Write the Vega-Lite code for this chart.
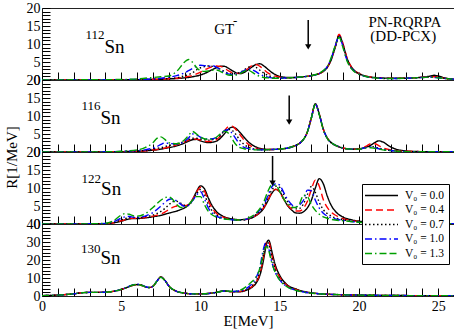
{
"$schema": "https://vega.github.io/schema/vega-lite/v6.json",
"padding": {"left": 3, "top": 0, "right": 1, "bottom": 1},
"spacing": 0,
"bounds": "flush",
"config": {
 "view": {"stroke": "#222", "strokeWidth": 1},
 "axis": {"labelFont": "Liberation Serif", "labelFontSize": 14, "labelColor": "black", "tickColor": "black", "tickWidth": 1, "tickSize": -8, "domain": false, "grid": false, "labelOverlap": false, "labelFlush": false, "labelBound": false, "titleFont": "Liberation Serif", "titleFontWeight": "normal", "titleFontSize": 15, "titleColor": "black", "labelPadding": 10},
 "legend": {"orient": "none", "legendX": 320, "legendY": 176, "padding": 5, "strokeColor": "black", "fillColor": "white", "labelFont": "Liberation Serif", "labelFontSize": 11.5, "labelColor": "black", "symbolStrokeWidth": 1.5, "rowPadding": 2.5}
},
"datasets": {
 "curves": [
  {"p":1,"E":0,"a":0,"b":0,"c":0,"d":0,"e":0},
  {"p":1,"E":2,"a":0,"b":0,"c":0,"d":0,"e":0.05},
  {"p":1,"E":4,"a":0.05,"b":0.05,"c":0.05,"d":0.05,"e":0.1},
  {"p":1,"E":5,"a":0.1,"b":0.1,"c":0.1,"d":0.1,"e":0.15},
  {"p":1,"E":6,"a":0.1,"b":0.1,"c":0.1,"d":0.15,"e":0.3},
  {"p":1,"E":7,"a":0.15,"b":0.2,"c":0.25,"d":0.3,"e":0.7},
  {"p":1,"E":7.5,"a":0.2,"b":0.25,"c":0.3,"d":0.5,"e":0.9},
  {"p":1,"E":8,"a":0.3,"b":0.35,"c":0.4,"d":0.8,"e":1.1},
  {"p":1,"E":8.5,"a":0.4,"b":0.5,"c":0.6,"d":1.2,"e":2.4},
  {"p":1,"E":9,"a":0.6,"b":0.8,"c":1.2,"d":2.0,"e":5.0},
  {"p":1,"E":9.25,"a":0.7,"b":1.0,"c":1.5,"d":2.6,"e":5.7},
  {"p":1,"E":9.5,"a":0.9,"b":1.3,"c":2.0,"d":3.2,"e":4.9},
  {"p":1,"E":9.75,"a":1.1,"b":1.7,"c":2.8,"d":3.8,"e":3.5},
  {"p":1,"E":10,"a":1.4,"b":2.2,"c":3.4,"d":4.1,"e":2.6},
  {"p":1,"E":10.25,"a":1.8,"b":2.8,"c":3.7,"d":4.0,"e":2.4},
  {"p":1,"E":10.5,"a":2.3,"b":3.3,"c":3.9,"d":3.8,"e":2.5},
  {"p":1,"E":10.75,"a":2.9,"b":3.7,"c":3.8,"d":4.0,"e":2.7},
  {"p":1,"E":11,"a":3.4,"b":3.9,"c":3.5,"d":3.6,"e":2.8},
  {"p":1,"E":11.25,"a":3.8,"b":3.8,"c":3.0,"d":2.8,"e":2.4},
  {"p":1,"E":11.5,"a":3.8,"b":3.3,"c":2.4,"d":2.1,"e":1.8},
  {"p":1,"E":11.75,"a":3.3,"b":2.6,"c":1.9,"d":1.7,"e":1.4},
  {"p":1,"E":12,"a":2.6,"b":2.0,"c":1.7,"d":1.5,"e":1.3},
  {"p":1,"E":12.25,"a":2.0,"b":1.8,"c":1.8,"d":1.6,"e":1.4},
  {"p":1,"E":12.5,"a":1.8,"b":1.9,"c":2.1,"d":2.0,"e":1.8},
  {"p":1,"E":12.75,"a":2.1,"b":2.4,"c":2.8,"d":2.6,"e":2.4},
  {"p":1,"E":13,"a":2.8,"b":3.2,"c":3.5,"d":3.1,"e":2.7},
  {"p":1,"E":13.25,"a":3.6,"b":4.0,"c":3.8,"d":2.9,"e":2.2},
  {"p":1,"E":13.5,"a":4.3,"b":4.3,"c":3.5,"d":2.3,"e":1.5},
  {"p":1,"E":13.75,"a":4.5,"b":3.8,"c":2.7,"d":1.6,"e":1.0},
  {"p":1,"E":14,"a":3.9,"b":2.9,"c":1.9,"d":1.1,"e":0.7},
  {"p":1,"E":14.25,"a":3.0,"b":2.0,"c":1.3,"d":0.8,"e":0.6},
  {"p":1,"E":14.5,"a":2.1,"b":1.4,"c":0.9,"d":0.6,"e":0.5},
  {"p":1,"E":15,"a":1.0,"b":0.8,"c":0.6,"d":0.5,"e":0.5},
  {"p":1,"E":15.5,"a":0.7,"b":0.6,"c":0.6,"d":0.6,"e":0.6},
  {"p":1,"E":16,"a":0.7,"b":0.7,"c":0.7,"d":0.7,"e":0.7},
  {"p":1,"E":16.5,"a":0.9,"b":0.9,"c":0.9,"d":0.9,"e":0.9},
  {"p":1,"E":17,"a":1.2,"b":1.2,"c":1.2,"d":1.2,"e":1.2},
  {"p":1,"E":17.5,"a":1.8,"b":1.8,"c":1.8,"d":1.8,"e":1.9},
  {"p":1,"E":17.75,"a":2.4,"b":2.4,"c":2.4,"d":2.5,"e":2.6},
  {"p":1,"E":18,"a":3.5,"b":3.5,"c":3.5,"d":3.7,"e":3.8},
  {"p":1,"E":18.25,"a":5.6,"b":5.7,"c":5.8,"d":6.0,"e":6.2},
  {"p":1,"E":18.5,"a":9.0,"b":9.2,"c":9.2,"d":9.4,"e":9.5},
  {"p":1,"E":18.75,"a":12.4,"b":12.7,"c":12.3,"d":12.1,"e":11.8},
  {"p":1,"E":19,"a":9.8,"b":10.0,"c":9.6,"d":9.2,"e":8.9},
  {"p":1,"E":19.25,"a":6.0,"b":6.1,"c":5.8,"d":5.5,"e":5.3},
  {"p":1,"E":19.5,"a":3.8,"b":3.8,"c":3.6,"d":3.4,"e":3.3},
  {"p":1,"E":19.75,"a":2.5,"b":2.5,"c":2.4,"d":2.3,"e":2.2},
  {"p":1,"E":20,"a":1.8,"b":1.8,"c":1.7,"d":1.6,"e":1.6},
  {"p":1,"E":20.5,"a":1.0,"b":1.0,"c":0.9,"d":0.9,"e":0.9},
  {"p":1,"E":21,"a":0.7,"b":0.7,"c":0.6,"d":0.6,"e":0.6},
  {"p":1,"E":22,"a":0.5,"b":0.5,"c":0.4,"d":0.4,"e":0.4},
  {"p":1,"E":23,"a":0.5,"b":0.5,"c":0.5,"d":0.5,"e":0.5},
  {"p":1,"E":23.5,"a":0.6,"b":0.6,"c":0.6,"d":0.6,"e":0.6},
  {"p":1,"E":24,"a":0.8,"b":0.8,"c":0.7,"d":0.7,"e":0.7},
  {"p":1,"E":24.5,"a":1.1,"b":0.9,"c":0.8,"d":0.8,"e":0.8},
  {"p":1,"E":24.75,"a":1.3,"b":0.9,"c":0.8,"d":0.7,"e":0.7},
  {"p":1,"E":25,"a":1.1,"b":0.8,"c":0.7,"d":0.6,"e":0.6},
  {"p":1,"E":25.5,"a":0.5,"b":0.4,"c":0.4,"d":0.4,"e":0.4},
  {"p":1,"E":26,"a":0.2,"b":0.2,"c":0.2,"d":0.2,"e":0.2},

  {"p":2,"E":0,"a":0,"b":0,"c":0,"d":0,"e":0},
  {"p":2,"E":4,"a":0.05,"b":0.05,"c":0.05,"d":0.05,"e":0.05},
  {"p":2,"E":5,"a":0.1,"b":0.1,"c":0.1,"d":0.15,"e":0.2},
  {"p":2,"E":6,"a":0.2,"b":0.2,"c":0.3,"d":0.4,"e":0.6},
  {"p":2,"E":6.5,"a":0.3,"b":0.3,"c":0.4,"d":0.6,"e":1.2},
  {"p":2,"E":7,"a":0.5,"b":0.6,"c":0.8,"d":1.1,"e":2.6},
  {"p":2,"E":7.25,"a":0.6,"b":0.7,"c":1.0,"d":1.5,"e":3.8},
  {"p":2,"E":7.5,"a":0.8,"b":0.9,"c":1.2,"d":2.1,"e":4.2},
  {"p":2,"E":7.75,"a":1.0,"b":1.1,"c":1.5,"d":2.5,"e":3.5},
  {"p":2,"E":8,"a":1.2,"b":1.4,"c":1.8,"d":2.4,"e":2.6},
  {"p":2,"E":8.5,"a":1.7,"b":2.0,"c":2.3,"d":2.2,"e":2.3},
  {"p":2,"E":9,"a":2.5,"b":2.8,"c":2.9,"d":3.0,"e":3.4},
  {"p":2,"E":9.25,"a":3.0,"b":3.3,"c":3.4,"d":3.9,"e":4.6},
  {"p":2,"E":9.5,"a":3.4,"b":3.6,"c":3.8,"d":5.0,"e":5.7},
  {"p":2,"E":9.75,"a":3.5,"b":3.6,"c":3.8,"d":4.8,"e":5.0},
  {"p":2,"E":10,"a":3.1,"b":3.3,"c":3.6,"d":4.1,"e":4.1},
  {"p":2,"E":10.5,"a":2.6,"b":2.9,"c":3.3,"d":3.6,"e":3.5},
  {"p":2,"E":11,"a":3.0,"b":3.4,"c":3.8,"d":4.0,"e":4.1},
  {"p":2,"E":11.25,"a":3.8,"b":4.4,"c":4.6,"d":4.9,"e":5.0},
  {"p":2,"E":11.5,"a":5.0,"b":5.8,"c":5.8,"d":5.9,"e":5.8},
  {"p":2,"E":11.75,"a":6.3,"b":7.0,"c":6.3,"d":6.2,"e":5.3},
  {"p":2,"E":12,"a":6.9,"b":7.2,"c":6.0,"d":5.2,"e":3.6},
  {"p":2,"E":12.25,"a":6.5,"b":6.2,"c":4.8,"d":3.6,"e":2.0},
  {"p":2,"E":12.5,"a":5.4,"b":4.8,"c":3.2,"d":2.0,"e":1.2},
  {"p":2,"E":12.75,"a":4.1,"b":3.3,"c":2.1,"d":1.3,"e":0.9},
  {"p":2,"E":13,"a":2.9,"b":2.2,"c":1.4,"d":1.0,"e":0.8},
  {"p":2,"E":13.5,"a":1.4,"b":1.1,"c":0.8,"d":0.7,"e":0.6},
  {"p":2,"E":14,"a":0.8,"b":0.7,"c":0.6,"d":0.6,"e":0.6},
  {"p":2,"E":14.5,"a":0.7,"b":0.7,"c":0.7,"d":0.7,"e":0.7},
  {"p":2,"E":15,"a":0.8,"b":0.8,"c":0.8,"d":0.8,"e":0.8},
  {"p":2,"E":15.5,"a":1.1,"b":1.1,"c":1.1,"d":1.1,"e":1.1},
  {"p":2,"E":16,"a":1.8,"b":1.8,"c":1.8,"d":1.8,"e":1.8},
  {"p":2,"E":16.25,"a":2.4,"b":2.4,"c":2.4,"d":2.4,"e":2.4},
  {"p":2,"E":16.5,"a":3.5,"b":3.5,"c":3.5,"d":3.5,"e":3.5},
  {"p":2,"E":16.75,"a":5.6,"b":5.6,"c":5.6,"d":5.6,"e":5.6},
  {"p":2,"E":17,"a":9.5,"b":9.5,"c":9.5,"d":9.5,"e":9.5},
  {"p":2,"E":17.25,"a":13.4,"b":13.3,"c":13.3,"d":13.3,"e":13.2},
  {"p":2,"E":17.5,"a":10.5,"b":10.5,"c":10.4,"d":10.4,"e":10.3},
  {"p":2,"E":17.75,"a":6.4,"b":6.4,"c":6.3,"d":6.3,"e":6.2},
  {"p":2,"E":18,"a":3.9,"b":3.9,"c":3.8,"d":3.8,"e":3.8},
  {"p":2,"E":18.25,"a":2.6,"b":2.6,"c":2.6,"d":2.6,"e":2.6},
  {"p":2,"E":18.5,"a":1.9,"b":1.9,"c":1.9,"d":1.9,"e":1.9},
  {"p":2,"E":19,"a":1.1,"b":1.1,"c":1.1,"d":1.1,"e":1.1},
  {"p":2,"E":19.5,"a":0.8,"b":0.8,"c":0.8,"d":0.8,"e":0.8},
  {"p":2,"E":20,"a":0.9,"b":0.9,"c":0.8,"d":0.8,"e":0.8},
  {"p":2,"E":20.5,"a":1.4,"b":1.7,"c":1.3,"d":1.3,"e":1.2},
  {"p":2,"E":20.75,"a":1.9,"b":2.3,"c":1.5,"d":1.4,"e":1.2},
  {"p":2,"E":21,"a":2.6,"b":2.3,"c":1.4,"d":1.2,"e":1.0},
  {"p":2,"E":21.25,"a":3.1,"b":1.8,"c":1.1,"d":0.9,"e":0.8},
  {"p":2,"E":21.5,"a":2.8,"b":1.2,"c":0.8,"d":0.7,"e":0.6},
  {"p":2,"E":22,"a":1.4,"b":0.6,"c":0.4,"d":0.4,"e":0.4},
  {"p":2,"E":22.5,"a":0.6,"b":0.3,"c":0.2,"d":0.2,"e":0.2},
  {"p":2,"E":23,"a":0.3,"b":0.2,"c":0.1,"d":0.1,"e":0.1},
  {"p":2,"E":24,"a":0.1,"b":0.1,"c":0.1,"d":0.1,"e":0.1},
  {"p":2,"E":26,"a":0.05,"b":0.05,"c":0.05,"d":0.05,"e":0.05},

  {"p":3,"E":0,"a":0,"b":0,"c":0,"d":0,"e":0},
  {"p":3,"E":3,"a":0.05,"b":0.05,"c":0.05,"d":0.05,"e":0.05},
  {"p":3,"E":4,"a":0.1,"b":0.1,"c":0.1,"d":0.15,"e":0.2},
  {"p":3,"E":4.5,"a":0.3,"b":0.3,"c":0.4,"d":0.6,"e":0.9},
  {"p":3,"E":5,"a":0.8,"b":0.9,"c":1.1,"d":1.6,"e":2.5},
  {"p":3,"E":5.25,"a":1.1,"b":1.2,"c":1.5,"d":2.0,"e":2.9},
  {"p":3,"E":5.5,"a":1.4,"b":1.5,"c":1.8,"d":2.1,"e":2.7},
  {"p":3,"E":5.75,"a":1.5,"b":1.6,"c":1.8,"d":1.9,"e":2.3},
  {"p":3,"E":6,"a":1.5,"b":1.6,"c":1.7,"d":1.8,"e":2.2},
  {"p":3,"E":6.5,"a":1.7,"b":1.8,"c":2.0,"d":2.2,"e":2.8},
  {"p":3,"E":7,"a":2.0,"b":2.2,"c":2.5,"d":3.2,"e":4.6},
  {"p":3,"E":7.5,"a":2.4,"b":2.8,"c":3.5,"d":5.0,"e":6.6},
  {"p":3,"E":7.75,"a":2.7,"b":3.3,"c":4.3,"d":6.0,"e":7.3},
  {"p":3,"E":8,"a":3.0,"b":4.0,"c":5.3,"d":6.8,"e":7.5},
  {"p":3,"E":8.25,"a":3.3,"b":4.6,"c":6.2,"d":7.0,"e":6.8},
  {"p":3,"E":8.5,"a":3.6,"b":5.0,"c":6.3,"d":6.4,"e":5.4},
  {"p":3,"E":8.75,"a":4.0,"b":5.4,"c":5.8,"d":5.5,"e":4.6},
  {"p":3,"E":9,"a":4.5,"b":5.1,"c":5.2,"d":4.9,"e":4.6},
  {"p":3,"E":9.25,"a":5.3,"b":5.4,"c":5.2,"d":5.2,"e":5.4},
  {"p":3,"E":9.5,"a":6.8,"b":6.8,"c":6.5,"d":6.5,"e":6.6},
  {"p":3,"E":9.75,"a":9.0,"b":8.8,"c":8.3,"d":8.0,"e":7.6},
  {"p":3,"E":10,"a":10.6,"b":10.2,"c":9.6,"d":9.0,"e":7.6},
  {"p":3,"E":10.25,"a":9.8,"b":9.2,"c":8.2,"d":7.0,"e":5.4},
  {"p":3,"E":10.5,"a":7.2,"b":6.4,"c":5.4,"d":4.4,"e":3.5},
  {"p":3,"E":10.75,"a":5.0,"b":4.3,"c":3.6,"d":3.0,"e":2.5},
  {"p":3,"E":11,"a":3.5,"b":3.0,"c":2.6,"d":2.2,"e":1.9},
  {"p":3,"E":11.5,"a":2.0,"b":1.8,"c":1.6,"d":1.5,"e":1.4},
  {"p":3,"E":12,"a":1.4,"b":1.3,"c":1.2,"d":1.2,"e":1.2},
  {"p":3,"E":12.5,"a":1.2,"b":1.1,"c":1.1,"d":1.1,"e":1.1},
  {"p":3,"E":13,"a":1.4,"b":1.4,"c":1.4,"d":1.5,"e":1.6},
  {"p":3,"E":13.5,"a":2.3,"b":2.4,"c":2.6,"d":2.8,"e":3.0},
  {"p":3,"E":14,"a":4.4,"b":4.6,"c":5.0,"d":5.4,"e":6.2},
  {"p":3,"E":14.25,"a":6.4,"b":6.6,"c":7.2,"d":7.8,"e":9.0},
  {"p":3,"E":14.5,"a":8.5,"b":8.7,"c":9.4,"d":10.3,"e":10.8},
  {"p":3,"E":14.75,"a":9.6,"b":9.7,"c":10.5,"d":11.2,"e":10.8},
  {"p":3,"E":15,"a":9.0,"b":8.8,"c":10.2,"d":10.8,"e":9.0},
  {"p":3,"E":15.25,"a":7.0,"b":6.9,"c":8.2,"d":8.8,"e":7.0},
  {"p":3,"E":15.5,"a":5.1,"b":5.2,"c":6.2,"d":6.8,"e":5.5},
  {"p":3,"E":15.75,"a":3.9,"b":4.2,"c":4.9,"d":5.4,"e":4.6},
  {"p":3,"E":16,"a":3.1,"b":3.6,"c":4.2,"d":4.8,"e":4.6},
  {"p":3,"E":16.25,"a":3.0,"b":3.6,"c":4.3,"d":5.3,"e":5.6},
  {"p":3,"E":16.5,"a":3.4,"b":4.4,"c":5.6,"d":6.6,"e":8.0},
  {"p":3,"E":16.75,"a":4.5,"b":6.3,"c":8.2,"d":9.4,"e":7.6},
  {"p":3,"E":17,"a":6.6,"b":9.6,"c":10.4,"d":9.2,"e":5.4},
  {"p":3,"E":17.25,"a":10.0,"b":12.2,"c":8.8,"d":6.6,"e":3.8},
  {"p":3,"E":17.5,"a":12.6,"b":10.5,"c":6.0,"d":4.4,"e":2.7},
  {"p":3,"E":17.75,"a":11.2,"b":6.8,"c":4.0,"d":3.0,"e":2.0},
  {"p":3,"E":18,"a":7.8,"b":4.6,"c":2.9,"d":2.2,"e":1.6},
  {"p":3,"E":18.25,"a":5.2,"b":3.3,"c":2.2,"d":1.7,"e":1.3},
  {"p":3,"E":18.5,"a":3.6,"b":2.5,"c":1.7,"d":1.4,"e":1.1},
  {"p":3,"E":19,"a":1.9,"b":1.5,"c":1.2,"d":1.0,"e":0.9},
  {"p":3,"E":19.5,"a":1.2,"b":1.0,"c":0.8,"d":0.7,"e":0.7},
  {"p":3,"E":20,"a":0.8,"b":0.7,"c":0.6,"d":0.6,"e":0.5},
  {"p":3,"E":21,"a":0.4,"b":0.4,"c":0.3,"d":0.3,"e":0.3},
  {"p":3,"E":22,"a":0.2,"b":0.2,"c":0.2,"d":0.2,"e":0.2},
  {"p":3,"E":24,"a":0.1,"b":0.1,"c":0.1,"d":0.1,"e":0.1},
  {"p":3,"E":26,"a":0.05,"b":0.05,"c":0.05,"d":0.05,"e":0.05},

  {"p":4,"E":0,"a":0.2,"b":0.2,"c":0.2,"d":0.2,"e":0.2},
  {"p":4,"E":1,"a":0.5,"b":0.5,"c":0.5,"d":0.5,"e":0.5},
  {"p":4,"E":1.5,"a":0.8,"b":0.8,"c":0.8,"d":0.8,"e":0.8},
  {"p":4,"E":2,"a":1.2,"b":1.2,"c":1.2,"d":1.2,"e":1.2},
  {"p":4,"E":2.5,"a":1.8,"b":1.8,"c":1.8,"d":1.8,"e":1.8},
  {"p":4,"E":3,"a":2.0,"b":2.0,"c":2.0,"d":2.0,"e":2.0},
  {"p":4,"E":3.5,"a":2.0,"b":2.0,"c":2.0,"d":2.0,"e":2.0},
  {"p":4,"E":4,"a":2.1,"b":2.1,"c":2.1,"d":2.1,"e":2.1},
  {"p":4,"E":4.5,"a":2.6,"b":2.6,"c":2.6,"d":2.6,"e":2.6},
  {"p":4,"E":5,"a":3.6,"b":3.6,"c":3.6,"d":3.7,"e":3.7},
  {"p":4,"E":5.5,"a":5.2,"b":5.2,"c":5.3,"d":5.4,"e":5.3},
  {"p":4,"E":5.75,"a":6.0,"b":6.0,"c":6.1,"d":6.3,"e":6.1},
  {"p":4,"E":6,"a":6.3,"b":6.3,"c":6.4,"d":6.6,"e":6.4},
  {"p":4,"E":6.25,"a":6.0,"b":6.0,"c":6.1,"d":6.2,"e":6.0},
  {"p":4,"E":6.5,"a":5.2,"b":5.2,"c":5.2,"d":5.3,"e":5.2},
  {"p":4,"E":6.75,"a":4.7,"b":4.7,"c":4.7,"d":4.7,"e":4.7},
  {"p":4,"E":7,"a":5.4,"b":5.4,"c":5.4,"d":5.4,"e":5.4},
  {"p":4,"E":7.25,"a":8.2,"b":8.2,"c":8.2,"d":8.2,"e":8.2},
  {"p":4,"E":7.5,"a":10.6,"b":10.6,"c":10.5,"d":10.5,"e":10.4},
  {"p":4,"E":7.75,"a":8.8,"b":8.8,"c":8.7,"d":8.7,"e":8.6},
  {"p":4,"E":8,"a":5.6,"b":5.6,"c":5.6,"d":5.6,"e":5.6},
  {"p":4,"E":8.5,"a":2.6,"b":2.6,"c":2.6,"d":2.6,"e":2.6},
  {"p":4,"E":9,"a":1.6,"b":1.6,"c":1.6,"d":1.6,"e":1.6},
  {"p":4,"E":9.5,"a":1.2,"b":1.2,"c":1.2,"d":1.2,"e":1.2},
  {"p":4,"E":10,"a":1.2,"b":1.2,"c":1.2,"d":1.2,"e":1.2},
  {"p":4,"E":10.5,"a":1.4,"b":1.4,"c":1.4,"d":1.4,"e":1.4},
  {"p":4,"E":11,"a":2.0,"b":2.0,"c":2.0,"d":2.0,"e":2.0},
  {"p":4,"E":11.5,"a":2.8,"b":2.8,"c":2.8,"d":2.8,"e":2.8},
  {"p":4,"E":12,"a":2.4,"b":2.4,"c":2.4,"d":2.5,"e":2.6},
  {"p":4,"E":12.5,"a":2.4,"b":2.5,"c":2.6,"d":2.8,"e":3.2},
  {"p":4,"E":13,"a":3.6,"b":3.8,"c":4.0,"d":4.8,"e":6.0},
  {"p":4,"E":13.25,"a":4.8,"b":5.2,"c":5.6,"d":6.8,"e":8.0},
  {"p":4,"E":13.5,"a":7.0,"b":7.6,"c":8.3,"d":10.0,"e":10.5},
  {"p":4,"E":13.75,"a":11.5,"b":12.5,"c":13.5,"d":16.0,"e":15.5},
  {"p":4,"E":13.9,"a":16.5,"b":18,"c":19.5,"d":23,"e":21},
  {"p":4,"E":14,"a":21,"b":23,"c":24.5,"d":27,"e":24.5},
  {"p":4,"E":14.1,"a":26,"b":27.5,"c":28.5,"d":29.3,"e":27},
  {"p":4,"E":14.2,"a":30,"b":30.3,"c":30,"d":28.5,"e":27.5},
  {"p":4,"E":14.3,"a":31,"b":30.3,"c":29,"d":26.5,"e":25.5},
  {"p":4,"E":14.4,"a":29,"b":27.5,"c":26,"d":23,"e":22},
  {"p":4,"E":14.5,"a":25,"b":23,"c":21.5,"d":19,"e":18.5},
  {"p":4,"E":14.75,"a":16.5,"b":15,"c":14,"d":12.5,"e":12.5},
  {"p":4,"E":15,"a":11.5,"b":10.5,"c":9.8,"d":9,"e":8.8},
  {"p":4,"E":15.5,"a":6.0,"b":5.6,"c":5.3,"d":5.0,"e":4.9},
  {"p":4,"E":16,"a":4.0,"b":3.7,"c":3.5,"d":3.3,"e":3.2},
  {"p":4,"E":16.5,"a":2.6,"b":2.4,"c":2.3,"d":2.2,"e":2.2},
  {"p":4,"E":17,"a":1.8,"b":1.7,"c":1.6,"d":1.6,"e":1.6},
  {"p":4,"E":18,"a":1.0,"b":1.0,"c":1.0,"d":1.0,"e":1.0},
  {"p":4,"E":19,"a":0.7,"b":0.7,"c":0.7,"d":0.7,"e":0.7},
  {"p":4,"E":20,"a":0.5,"b":0.5,"c":0.5,"d":0.5,"e":0.5},
  {"p":4,"E":22,"a":0.3,"b":0.3,"c":0.3,"d":0.3,"e":0.3},
  {"p":4,"E":24,"a":0.2,"b":0.2,"c":0.2,"d":0.2,"e":0.2},
  {"p":4,"E":26,"a":0.2,"b":0.2,"c":0.2,"d":0.2,"e":0.2}
 ],
 "arrows": [
  {"p":1,"E":16.8,"top":16.7,"head":9.2},
  {"p":2,"E":15.6,"top":15.7,"head":8.3},
  {"p":3,"E":14.55,"top":18.9,"head":11.3}
 ],
 "txt": [
  {"p":1,"E":3.94,"R":7.6,"t":"Sn","k":"n"},
  {"p":1,"E":3.94,"R":11.3,"t":"112","k":"s"},
  {"p":1,"E":11.5,"R":12.7,"t":"GT","k":"c"},
  {"p":1,"E":12.05,"R":15.3,"t":"-","k":"m"},
  {"p":1,"E":22.9,"R":14.7,"t":"PN-RQRPA","k":"c"},
  {"p":1,"E":22.8,"R":10.8,"t":"(DD-PCX)","k":"c"},
  {"p":2,"E":3.69,"R":7.9,"t":"Sn","k":"n"},
  {"p":2,"E":3.69,"R":11.6,"t":"116","k":"s"},
  {"p":3,"E":3.73,"R":8.05,"t":"Sn","k":"n"},
  {"p":3,"E":3.73,"R":11.3,"t":"122","k":"s"},
  {"p":4,"E":3.69,"R":17.7,"t":"Sn","k":"n"},
  {"p":4,"E":3.69,"R":23.7,"t":"130","k":"s"}
 ]
},
"vconcat": [
 {"width": 412, "height": 72,
  "resolve": {"axis": {"x": "independent", "y": "independent"}},
  "layer": [
   {"data": {"name": "curves"}, "transform": [{"filter": "datum.p == 1"}, {"fold": ["a","b","c","d","e"], "as": ["k","R"]}],
    "mark": {"type": "line", "strokeWidth": 1.4, "interpolate": "monotone", "clip": true},
    "encoding": {
     "x": {"field": "E", "type": "quantitative", "scale": {"domain": [0,26], "nice": false, "zero": false},
      "axis": {"orient": "bottom", "values": [0,1,2,3,4,5,6,7,8,9,10,11,12,13,14,15,16,17,18,19,20,21,22,23,24,25,26], "labels": false, "title": null, "tickSize": -8, "labelOverlap": false, "encode": {"ticks": {"update": {"y2": {"signal": "datum.value % 5 == 0 ? -8 : -4"}}}}}},
     "y": {"field": "R", "type": "quantitative", "scale": {"domain": [0,20], "nice": false},
      "axis": {"orient": "left", "values": [0,1,2,3,4,5,6,7,8,9,10,11,12,13,14,15,16,17,18,19,20], "labelExpr": "datum.value % 5 == 0 ? datum.label : ''", "title": null, "tickSize": -8, "labelPadding": 10, "labelOverlap": false, "encode": {"ticks": {"update": {"x2": {"signal": "datum.value % 5 == 0 ? 8 : 4"}}}}}},
     "color": {"field": "k", "type": "nominal", "scale": {"domain": ["a","b","c","d","e"], "range": ["#000000","#ff0000","#000000","#0000ff","#00a000"]},
      "legend": {"title": null, "labelExpr": "datum.label=='a'?'V₀ = 0.0':datum.label=='b'?'V₀ = 0.4':datum.label=='c'?'V₀ = 0.7':datum.label=='d'?'V₀ = 1.0':'V₀ = 1.3'", "symbolType": "M-3,0L3,0", "symbolSize": 121, "symbolOffset": 8, "labelOffset": 17}},
     "strokeDash": {"field": "k", "type": "nominal", "scale": {"domain": ["a","b","c","d","e"], "range": [[1,0],[7,4],[1.5,2.5],[7,3,1.5,3],[7,3,1.5,3,7,3]]},
      "legend": {"title": null, "labelExpr": "datum.label=='a'?'V₀ = 0.0':datum.label=='b'?'V₀ = 0.4':datum.label=='c'?'V₀ = 0.7':datum.label=='d'?'V₀ = 1.0':'V₀ = 1.3'", "symbolType": "M-3,0L3,0", "symbolSize": 121, "symbolOffset": 8, "labelOffset": 17}}
    }},
   {"data": {"name": "arrows"}, "transform": [{"filter": "datum.p == 1"}], "mark": {"type": "rule", "strokeWidth": 1.5, "color": "black"},
    "encoding": {"x": {"field": "E", "type": "quantitative", "axis": null}, "y": {"field": "top", "type": "quantitative", "axis": null}, "y2": {"field": "head"}}},
   {"data": {"name": "arrows"}, "transform": [{"filter": "datum.p == 1"}], "mark": {"type": "point", "shape": "triangle-down", "filled": true, "size": 40, "color": "black", "opacity": 1},
    "encoding": {"x": {"field": "E", "type": "quantitative", "axis": null}, "y": {"field": "head", "type": "quantitative", "axis": null}}},
   {"data": {"name": "txt"}, "transform": [{"filter": "datum.p == 1 && datum.k == 'n'"}], "mark": {"type": "text", "font": "Liberation Serif", "fontSize": 19, "align": "left", "baseline": "alphabetic", "color": "black"},
    "encoding": {"x": {"field": "E", "type": "quantitative", "axis": null}, "y": {"field": "R", "type": "quantitative", "axis": null}, "text": {"field": "t"}}},
   {"data": {"name": "txt"}, "transform": [{"filter": "datum.p == 1 && datum.k == 's'"}], "mark": {"type": "text", "font": "Liberation Serif", "fontSize": 13, "align": "right", "baseline": "alphabetic", "color": "black"},
    "encoding": {"x": {"field": "E", "type": "quantitative", "axis": null}, "y": {"field": "R", "type": "quantitative", "axis": null}, "text": {"field": "t"}}},
   {"data": {"name": "txt"}, "transform": [{"filter": "datum.p == 1 && datum.k == 'c'"}], "mark": {"type": "text", "font": "Liberation Serif", "fontSize": 15, "align": "center", "baseline": "alphabetic", "color": "black"},
    "encoding": {"x": {"field": "E", "type": "quantitative", "axis": null}, "y": {"field": "R", "type": "quantitative", "axis": null}, "text": {"field": "t"}}},
   {"data": {"name": "txt"}, "transform": [{"filter": "datum.p == 1 && datum.k == 'm'"}], "mark": {"type": "text", "font": "Liberation Serif", "fontSize": 13, "align": "left", "baseline": "alphabetic", "color": "black"},
    "encoding": {"x": {"field": "E", "type": "quantitative", "axis": null}, "y": {"field": "R", "type": "quantitative", "axis": null}, "text": {"field": "t"}}}
  ]},
 {"width": 412, "height": 72,
  "resolve": {"axis": {"x": "independent", "y": "independent"}},
  "layer": [
   {"data": {"name": "curves"}, "transform": [{"filter": "datum.p == 2"}, {"fold": ["a","b","c","d","e"], "as": ["k","R"]}],
    "mark": {"type": "line", "strokeWidth": 1.4, "interpolate": "monotone", "clip": true},
    "encoding": {
     "x": {"field": "E", "type": "quantitative", "scale": {"domain": [0,26], "nice": false, "zero": false},
      "axis": {"orient": "bottom", "values": [0,1,2,3,4,5,6,7,8,9,10,11,12,13,14,15,16,17,18,19,20,21,22,23,24,25,26], "labels": false, "title": null, "tickSize": -8, "labelOverlap": false, "encode": {"ticks": {"update": {"y2": {"signal": "datum.value % 5 == 0 ? -8 : -4"}}}}}},
     "y": {"field": "R", "type": "quantitative", "scale": {"domain": [0,20], "nice": false},
      "axis": {"orient": "left", "values": [0,1,2,3,4,5,6,7,8,9,10,11,12,13,14,15,16,17,18,19,20], "labelExpr": "datum.value % 5 == 0 ? datum.label : ''", "title": null, "tickSize": -8, "labelPadding": 10, "labelOverlap": false, "encode": {"ticks": {"update": {"x2": {"signal": "datum.value % 5 == 0 ? 8 : 4"}}}}}},
     "color": {"field": "k", "type": "nominal", "scale": {"domain": ["a","b","c","d","e"], "range": ["#000000","#ff0000","#000000","#0000ff","#00a000"]},
      "legend": {"title": null, "labelExpr": "datum.label=='a'?'V₀ = 0.0':datum.label=='b'?'V₀ = 0.4':datum.label=='c'?'V₀ = 0.7':datum.label=='d'?'V₀ = 1.0':'V₀ = 1.3'", "symbolType": "M-3,0L3,0", "symbolSize": 121, "symbolOffset": 8, "labelOffset": 17}},
     "strokeDash": {"field": "k", "type": "nominal", "scale": {"domain": ["a","b","c","d","e"], "range": [[1,0],[7,4],[1.5,2.5],[7,3,1.5,3],[7,3,1.5,3,7,3]]},
      "legend": {"title": null, "labelExpr": "datum.label=='a'?'V₀ = 0.0':datum.label=='b'?'V₀ = 0.4':datum.label=='c'?'V₀ = 0.7':datum.label=='d'?'V₀ = 1.0':'V₀ = 1.3'", "symbolType": "M-3,0L3,0", "symbolSize": 121, "symbolOffset": 8, "labelOffset": 17}}
    }},
   {"data": {"name": "arrows"}, "transform": [{"filter": "datum.p == 2"}], "mark": {"type": "rule", "strokeWidth": 1.5, "color": "black"},
    "encoding": {"x": {"field": "E", "type": "quantitative", "axis": null}, "y": {"field": "top", "type": "quantitative", "axis": null}, "y2": {"field": "head"}}},
   {"data": {"name": "arrows"}, "transform": [{"filter": "datum.p == 2"}], "mark": {"type": "point", "shape": "triangle-down", "filled": true, "size": 40, "color": "black", "opacity": 1},
    "encoding": {"x": {"field": "E", "type": "quantitative", "axis": null}, "y": {"field": "head", "type": "quantitative", "axis": null}}},
   {"data": {"name": "txt"}, "transform": [{"filter": "datum.p == 2 && datum.k == 'n'"}], "mark": {"type": "text", "font": "Liberation Serif", "fontSize": 19, "align": "left", "baseline": "alphabetic", "color": "black"},
    "encoding": {"x": {"field": "E", "type": "quantitative", "axis": null}, "y": {"field": "R", "type": "quantitative", "axis": null}, "text": {"field": "t"}}},
   {"data": {"name": "txt"}, "transform": [{"filter": "datum.p == 2 && datum.k == 's'"}], "mark": {"type": "text", "font": "Liberation Serif", "fontSize": 13, "align": "right", "baseline": "alphabetic", "color": "black"},
    "encoding": {"x": {"field": "E", "type": "quantitative", "axis": null}, "y": {"field": "R", "type": "quantitative", "axis": null}, "text": {"field": "t"}}}
  ]},
 {"width": 412, "height": 72,
  "resolve": {"axis": {"x": "independent", "y": "independent"}},
  "layer": [
   {"data": {"name": "curves"}, "transform": [{"filter": "datum.p == 3"}, {"fold": ["a","b","c","d","e"], "as": ["k","R"]}],
    "mark": {"type": "line", "strokeWidth": 1.4, "interpolate": "monotone", "clip": true},
    "encoding": {
     "x": {"field": "E", "type": "quantitative", "scale": {"domain": [0,26], "nice": false, "zero": false},
      "axis": {"orient": "bottom", "values": [0,1,2,3,4,5,6,7,8,9,10,11,12,13,14,15,16,17,18,19,20,21,22,23,24,25,26], "labels": false, "title": null, "tickSize": -8, "labelOverlap": false, "encode": {"ticks": {"update": {"y2": {"signal": "datum.value % 5 == 0 ? -8 : -4"}}}}}},
     "y": {"field": "R", "type": "quantitative", "scale": {"domain": [0,20], "nice": false},
      "axis": {"orient": "left", "values": [0,1,2,3,4,5,6,7,8,9,10,11,12,13,14,15,16,17,18,19,20], "labelExpr": "datum.value % 5 == 0 ? datum.label : ''", "title": "R[1/MeV]", "titleX": -31, "titleY": 5, "titleAlign": "center", "titleBaseline": "middle", "tickSize": -8, "labelPadding": 10, "labelOverlap": false, "encode": {"ticks": {"update": {"x2": {"signal": "datum.value % 5 == 0 ? 8 : 4"}}}}}},
     "color": {"field": "k", "type": "nominal", "scale": {"domain": ["a","b","c","d","e"], "range": ["#000000","#ff0000","#000000","#0000ff","#00a000"]},
      "legend": {"title": null, "labelExpr": "datum.label=='a'?'V₀ = 0.0':datum.label=='b'?'V₀ = 0.4':datum.label=='c'?'V₀ = 0.7':datum.label=='d'?'V₀ = 1.0':'V₀ = 1.3'", "symbolType": "M-3,0L3,0", "symbolSize": 121, "symbolOffset": 8, "labelOffset": 17}},
     "strokeDash": {"field": "k", "type": "nominal", "scale": {"domain": ["a","b","c","d","e"], "range": [[1,0],[7,4],[1.5,2.5],[7,3,1.5,3],[7,3,1.5,3,7,3]]},
      "legend": {"title": null, "labelExpr": "datum.label=='a'?'V₀ = 0.0':datum.label=='b'?'V₀ = 0.4':datum.label=='c'?'V₀ = 0.7':datum.label=='d'?'V₀ = 1.0':'V₀ = 1.3'", "symbolType": "M-3,0L3,0", "symbolSize": 121, "symbolOffset": 8, "labelOffset": 17}}
    }},
   {"data": {"name": "arrows"}, "transform": [{"filter": "datum.p == 3"}], "mark": {"type": "rule", "strokeWidth": 1.5, "color": "black"},
    "encoding": {"x": {"field": "E", "type": "quantitative", "axis": null}, "y": {"field": "top", "type": "quantitative", "axis": null}, "y2": {"field": "head"}}},
   {"data": {"name": "arrows"}, "transform": [{"filter": "datum.p == 3"}], "mark": {"type": "point", "shape": "triangle-down", "filled": true, "size": 40, "color": "black", "opacity": 1},
    "encoding": {"x": {"field": "E", "type": "quantitative", "axis": null}, "y": {"field": "head", "type": "quantitative", "axis": null}}},
   {"data": {"name": "txt"}, "transform": [{"filter": "datum.p == 3 && datum.k == 'n'"}], "mark": {"type": "text", "font": "Liberation Serif", "fontSize": 19, "align": "left", "baseline": "alphabetic", "color": "black"},
    "encoding": {"x": {"field": "E", "type": "quantitative", "axis": null}, "y": {"field": "R", "type": "quantitative", "axis": null}, "text": {"field": "t"}}},
   {"data": {"name": "txt"}, "transform": [{"filter": "datum.p == 3 && datum.k == 's'"}], "mark": {"type": "text", "font": "Liberation Serif", "fontSize": 13, "align": "right", "baseline": "alphabetic", "color": "black"},
    "encoding": {"x": {"field": "E", "type": "quantitative", "axis": null}, "y": {"field": "R", "type": "quantitative", "axis": null}, "text": {"field": "t"}}}
  ]},
 {"width": 412, "height": 72,
  "resolve": {"axis": {"x": "independent", "y": "independent"}},
  "layer": [
   {"data": {"name": "curves"}, "transform": [{"filter": "datum.p == 4"}, {"fold": ["a","b","c","d","e"], "as": ["k","R"]}],
    "mark": {"type": "line", "strokeWidth": 1.4, "interpolate": "monotone", "clip": true},
    "encoding": {
     "x": {"field": "E", "type": "quantitative", "scale": {"domain": [0,26], "nice": false, "zero": false},
      "axis": {"orient": "bottom", "values": [0,1,2,3,4,5,6,7,8,9,10,11,12,13,14,15,16,17,18,19,20,21,22,23,24,25,26], "labelExpr": "datum.value % 5 == 0 ? datum.label : ''", "title": "E[MeV]", "titlePadding": 0, "tickSize": -8, "labelPadding": 11, "labelOverlap": false, "encode": {"ticks": {"update": {"y2": {"signal": "datum.value % 5 == 0 ? -8 : -4"}}}}}},
     "y": {"field": "R", "type": "quantitative", "scale": {"domain": [0,40], "nice": false},
      "axis": {"orient": "left", "values": [0,2,4,6,8,10,12,14,16,18,20,22,24,26,28,30,32,34,36,38,40], "labelExpr": "datum.value % 10 == 0 ? datum.label : ''", "title": null, "tickSize": -8, "labelPadding": 10, "labelOverlap": false, "encode": {"ticks": {"update": {"x2": {"signal": "datum.value % 10 == 0 ? 8 : 4"}}}}}},
     "color": {"field": "k", "type": "nominal", "scale": {"domain": ["a","b","c","d","e"], "range": ["#000000","#ff0000","#000000","#0000ff","#00a000"]},
      "legend": {"title": null, "labelExpr": "datum.label=='a'?'V₀ = 0.0':datum.label=='b'?'V₀ = 0.4':datum.label=='c'?'V₀ = 0.7':datum.label=='d'?'V₀ = 1.0':'V₀ = 1.3'", "symbolType": "M-3,0L3,0", "symbolSize": 121, "symbolOffset": 8, "labelOffset": 17}},
     "strokeDash": {"field": "k", "type": "nominal", "scale": {"domain": ["a","b","c","d","e"], "range": [[1,0],[7,4],[1.5,2.5],[7,3,1.5,3],[7,3,1.5,3,7,3]]},
      "legend": {"title": null, "labelExpr": "datum.label=='a'?'V₀ = 0.0':datum.label=='b'?'V₀ = 0.4':datum.label=='c'?'V₀ = 0.7':datum.label=='d'?'V₀ = 1.0':'V₀ = 1.3'", "symbolType": "M-3,0L3,0", "symbolSize": 121, "symbolOffset": 8, "labelOffset": 17}}
    }},
   {"data": {"name": "txt"}, "transform": [{"filter": "datum.p == 4 && datum.k == 'n'"}], "mark": {"type": "text", "font": "Liberation Serif", "fontSize": 19, "align": "left", "baseline": "alphabetic", "color": "black"},
    "encoding": {"x": {"field": "E", "type": "quantitative", "axis": null}, "y": {"field": "R", "type": "quantitative", "axis": null}, "text": {"field": "t"}}},
   {"data": {"name": "txt"}, "transform": [{"filter": "datum.p == 4 && datum.k == 's'"}], "mark": {"type": "text", "font": "Liberation Serif", "fontSize": 13, "align": "right", "baseline": "alphabetic", "color": "black"},
    "encoding": {"x": {"field": "E", "type": "quantitative", "axis": null}, "y": {"field": "R", "type": "quantitative", "axis": null}, "text": {"field": "t"}}}
  ]}
]
}
